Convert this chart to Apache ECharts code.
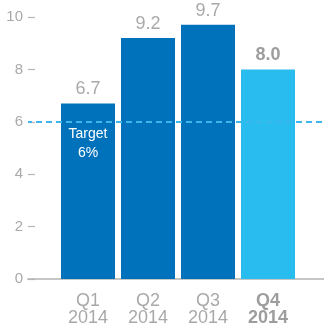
<!DOCTYPE html>
<html>
<head>
<meta charset="utf-8">
<script src="https://cdn.jsdelivr.net/npm/echarts@6/dist/echarts.min.js"></script>
<style>
  html, body { margin: 0; padding: 0; background: #fff; }
  #chart { width: 324px; height: 329px; }
</style>
</head>
<body>
<div id="chart"></div>
<script>
// Quarterly growth, 2014
const quarters = ['Q1', 'Q2', 'Q3', 'Q4'];
const years = ['2014', '2014', '2014', '2014'];
const growth = [6.7, 9.2, 9.7, 8.0];
const targetValue = 6;
const targetText = 'Target\n6%';
const highlightIndex = 3; // latest quarter drawn in light blue, bold label

const DARK = '#0071bb';
const LIGHT = '#28bdee';
const GREY = '#a9a9a9';
const BAR_WIDTH = 54;
const DASH = [6, 4];
const DASH_OFFSET = 2;

// One empty slot on each side so bars sit on ticks spaced across the plot
const categories = [''].concat(quarters.map((q, i) => q + '\n' + years[i]), ['']);
const barData = [null].concat(growth.map((v, i) => ({
  value: v,
  itemStyle: { color: i === highlightIndex ? LIGHT : DARK },
  label: i === highlightIndex ? { fontWeight: 'bold', color: '#9d9d9d' } : {}
})), [null]);
// category index + value for the white dash segments drawn across each bar
const crossData = growth.map((v, i) => [i + 1, v]);

const chart = echarts.init(document.getElementById('chart'));
chart.setOption({
  animation: false,
  grid: { left: 28, width: 300, top: 17, bottom: 50, containLabel: false, outerBoundsMode: 'none' },
  xAxis: {
    type: 'category',
    data: categories,
    boundaryGap: false,
    axisLine: { show: true, lineStyle: { color: '#c6c6c6', width: 2 } },
    axisTick: { show: false },
    axisLabel: {
      interval: 0,
      margin: 14,
      color: GREY,
      fontFamily: 'Liberation Sans, Arial, sans-serif',
      fontSize: 18,
      lineHeight: 17,
      formatter: (val, idx) => (idx - 1 === highlightIndex ? '{b|' + val.replace('\n', '}\n{b|') + '}' : val),
      rich: { b: { fontWeight: 'bold', color: '#9d9d9d', fontSize: 18, lineHeight: 17, fontFamily: 'Liberation Sans, Arial, sans-serif' } }
    }
  },
  yAxis: {
    type: 'value',
    min: 0,
    max: 10,
    interval: 2,
    axisLine: { show: false },
    axisTick: { show: true, inside: true, length: 7, lineStyle: { color: '#b5b5b5', width: 1.2 } },
    splitLine: { show: false },
    axisLabel: {
      margin: 5,
      color: GREY,
      fontFamily: 'Liberation Sans, Arial, sans-serif',
      fontSize: 15
    }
  },
  series: [
    {
      // target line behind the bars
      type: 'line',
      data: [],
      z: 1,
      silent: true,
      markLine: {
        symbol: 'none',
        silent: true,
        label: { show: false },
        lineStyle: { color: '#3db6ea', type: DASH, dashOffset: DASH_OFFSET, width: 1.8 },
        data: [{ yAxis: targetValue }]
      }
    },
    {
      type: 'bar',
      data: barData,
      barWidth: BAR_WIDTH,
      z: 2,
      label: {
        show: true,
        position: 'top',
        distance: 5,
        color: GREY,
        fontFamily: 'Liberation Sans, Arial, sans-serif',
        fontSize: 18,
        formatter: p => p.value.toFixed(1)
      },
      markPoint: {
        symbol: 'circle',
        symbolSize: 0,
        silent: true,
        label: {
          show: true,
          position: 'bottom',
          distance: 3,
          color: '#ffffff',
          fontFamily: 'Liberation Sans, Arial, sans-serif',
          fontSize: 14,
          lineHeight: 19,
          align: 'center',
          formatter: targetText
        },
        data: [{ coord: [categories[1], targetValue] }]
      }
    },
    {
      // white dashes where the target line crosses a bar
      type: 'custom',
      z: 3,
      silent: true,
      data: crossData,
      renderItem: (params, api) => {
        if (api.value(1) < targetValue) return null;
        const origin = api.coord([0, targetValue])[0];
        const p = api.coord([api.value(0), targetValue]);
        const x1 = p[0] - BAR_WIDTH / 2;
        const period = DASH[0] + DASH[1];
        const phase = (((x1 - origin + DASH_OFFSET) % period) + period) % period;
        return {
          type: 'line',
          shape: { x1: x1, y1: p[1], x2: x1 + BAR_WIDTH, y2: p[1] },
          style: { stroke: '#ffffff', lineWidth: 1.8, lineDash: DASH, lineDashOffset: phase }
        };
      }
    }
  ]
});
</script>
</body>
</html>
